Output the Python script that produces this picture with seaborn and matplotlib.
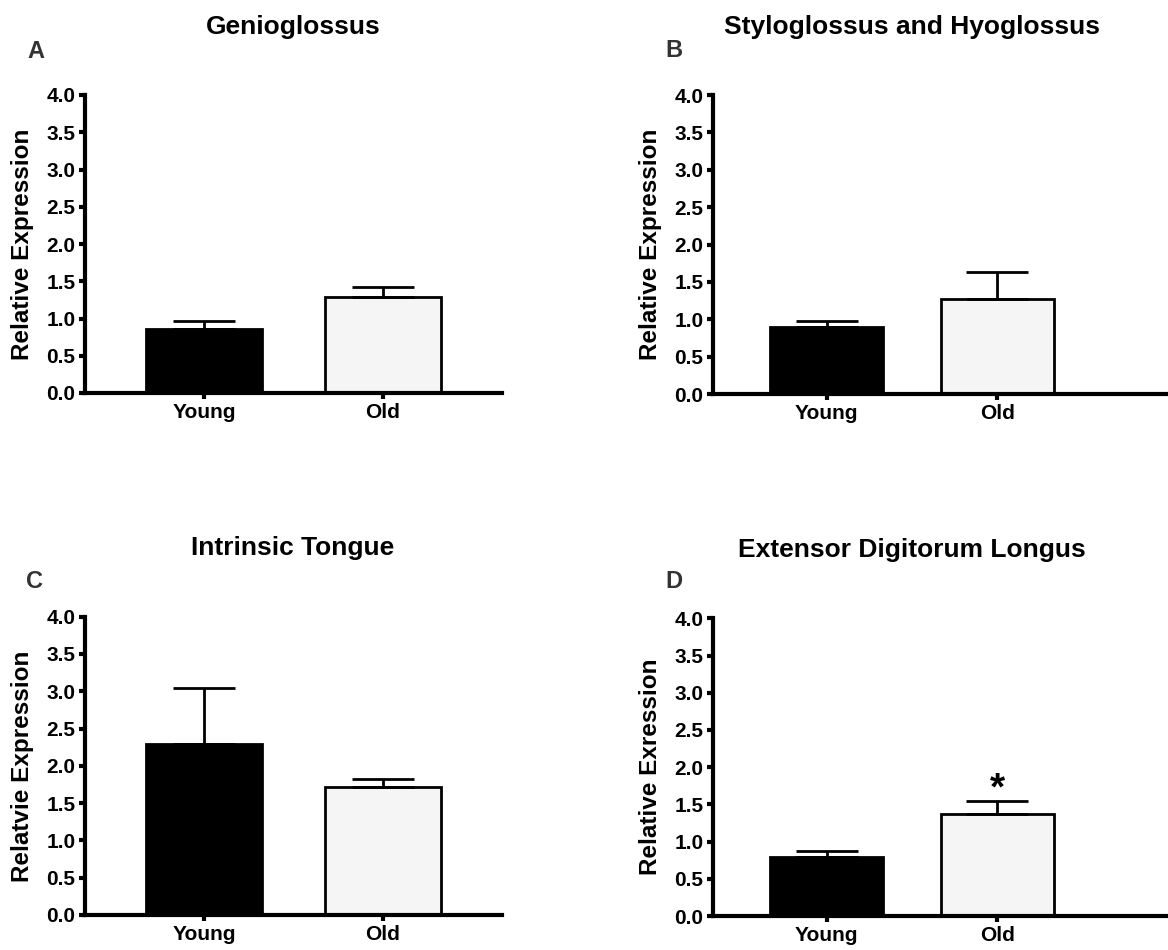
import numpy as np
import pandas as pd
import matplotlib
matplotlib.use('Agg')
import matplotlib.pyplot as plt
import seaborn as sns

# ---------------------------------------------------------------------------
# Data
# ---------------------------------------------------------------------------
groups = ['Young', 'Old']

panel_letters = ['A', 'B', 'C', 'D']
panel_titles = ['Genioglossus', 'Styloglossus and Hyoglossus',
                'Intrinsic Tongue', 'Extensor Digitorum Longus']
y_labels = ['Relative Expression', 'Relative Expression',
            'Relatvie Expression', 'Relative Exression']

genio_mean = [0.855, 1.285]
genio_err = [0.11, 0.135]
stylo_mean = [0.89, 1.27]
stylo_err = [0.08, 0.36]
intrinsic_mean = [2.29, 1.72]
intrinsic_err = [0.76, 0.10]
edl_mean = [0.79, 1.37]
edl_err = [0.09, 0.175]

means = [genio_mean, stylo_mean, intrinsic_mean, edl_mean]
errs = [genio_err, stylo_err, intrinsic_err, edl_err]

y_ticks = [0.0, 0.5, 1.0, 1.5, 2.0, 2.5, 3.0, 3.5, 4.0]
bar_colors = ['#000000', '#f5f5f5']

# ---------------------------------------------------------------------------
# Style
# ---------------------------------------------------------------------------
sns.set_theme(style='ticks')
plt.rcParams['font.family'] = ['Liberation Sans', 'DejaVu Sans']
plt.rcParams['font.weight'] = 'bold'

W, H = 1168, 950
fig = plt.figure(figsize=(W / 100, H / 100), dpi=100)

# axes boxes in pixels: left, top, right, bottom
boxes = [(85, 95, 502, 393), (713.3, 95, 1175, 394),
         (85, 616.7, 502, 915), (713.3, 618.3, 1175, 916)]
xlims = [(-0.665, 1.665), (-0.664, 2.04), (-0.665, 1.665), (-0.664, 2.04)]
bar_widths = [0.65, 0.66, 0.65, 0.66]
title_pos = [(293, 27), (911.7, 27), (293, 548), (911.7, 550)]
letter_pos = [(35.5, 51), (674, 50.5), (34.5, 581.5), (674, 582)]

for i in range(4):
    l, t, r, b = boxes[i]
    ax = fig.add_axes([l / W, 1 - b / H, (r - l) / W, (b - t) / H])

    df = pd.DataFrame({'group': groups, 'value': means[i]})
    sns.barplot(data=df, x='group', y='value', hue='group',
                palette=bar_colors, errorbar=None, width=bar_widths[i],
                edgecolor='black', linewidth=2, legend=False, ax=ax)

    # upward-only error bars (SEM)
    ax.errorbar(range(len(groups)), means[i],
                yerr=[np.zeros(len(groups)), errs[i]],
                fmt='none', ecolor='black', elinewidth=2,
                capsize=22, capthick=2, zorder=1)

    ax.set_xlim(*xlims[i])
    ax.set_ylim(0, 4)
    ax.set_yticks(y_ticks)
    ax.set_yticklabels([f'{v:.1f}' for v in y_ticks])
    ax.set_xlabel('')
    ax.set_ylabel(y_labels[i], fontsize=17.5, fontweight='bold',
                  color='black', labelpad=9)

    sns.despine(ax=ax)
    for side in ['left', 'bottom']:
        ax.spines[side].set_linewidth(3)
        ax.spines[side].set_color('black')
    ax.tick_params(axis='both', length=4, width=3, color='black',
                   labelsize=15, labelcolor='black', pad=3)
    for lab in ax.get_xticklabels() + ax.get_yticklabels():
        lab.set_fontweight('bold')

    fig.text(title_pos[i][0] / W, 1 - title_pos[i][1] / H, panel_titles[i],
             ha='center', va='center', fontsize=19, fontweight='bold',
             color='black')
    fig.text(letter_pos[i][0] / W, 1 - letter_pos[i][1] / H,
             panel_letters[i], ha='center', va='center', fontsize=17,
             fontweight='bold', color='#333333')

# significance star on Old bar of panel D
ax_d = fig.axes[3]
ax_d.text(1, 1.46, '*', ha='center', va='bottom', fontsize=28,
          fontweight='bold', color='black')

fig.savefig('out.png', dpi=100)
